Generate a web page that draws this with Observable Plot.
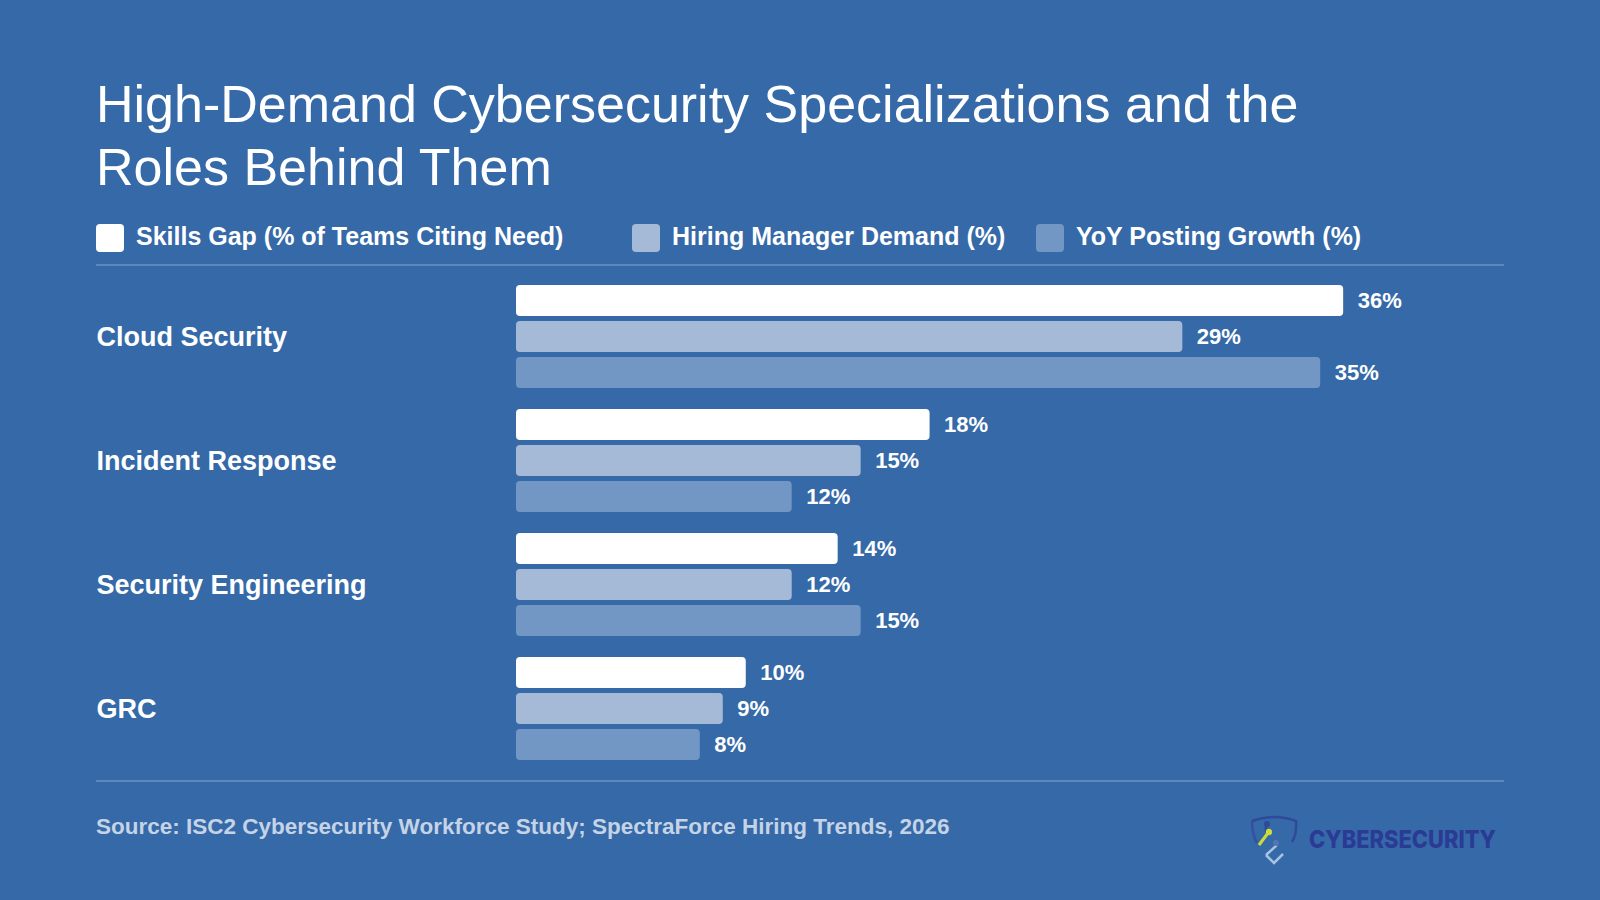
<!DOCTYPE html>
<html><head><meta charset="utf-8">
<script src="https://cdn.jsdelivr.net/npm/d3@7"></script>
<script src="https://cdn.jsdelivr.net/npm/@observablehq/plot@0.6"></script>
<style>
html,body{margin:0;padding:0;background:#3569a8;}
#page{position:relative;width:1600px;height:900px;background:#3569a8;overflow:hidden;font-family:"Liberation Sans",sans-serif;color:#fff;}
#page>*{position:absolute;}
#title{left:96px;top:73px;width:1300px;font-size:52px;line-height:63px;font-weight:400;margin:0;}
.rule{left:96px;width:1408px;height:1.5px;background:#5e88bd;}
.sw{top:224px;width:28px;height:28px;border-radius:4px;}
.lg{top:221px;font-size:25px;line-height:30px;font-weight:700;white-space:nowrap;}
#source{left:96px;top:813px;font-size:22.5px;line-height:28px;font-weight:700;color:#c5d3e6;white-space:nowrap;}
#chart{left:96px;top:284px;}
#logo{left:1245px;top:810px;}
</style></head><body>
<div id="page">
<h1 id="title">High-Demand Cybersecurity Specializations and the<br>Roles Behind Them</h1>
<div id="legend"></div>
<div class="rule" style="top:264px"></div>
<div id="chart"></div>
<div class="rule" style="top:780px"></div>
<div id="source">Source: ISC2 Cybersecurity Workforce Study; SpectraForce Hiring Trends, 2026</div>
<svg id="logo" width="260" height="60" viewBox="0 0 260 60">
  <defs><linearGradient id="sg" x1="0" y1="0" x2="0" y2="1"><stop offset="0" stop-color="#2d4596"/><stop offset=".55" stop-color="#4f7ab5"/><stop offset="1" stop-color="#b5cbe6"/></linearGradient></defs>
  <path d="M8 10 Q30 2 52 10 Q53 28 46 38 L30 53 L18 42" fill="none" stroke="url(#sg)" stroke-width="0"/>
  <path d="M7 11 Q29 3 51 11 Q52 24 47 32" fill="none" stroke="#2f4a9a" stroke-width="2.5"/>
  <path d="M7 11 Q7 24 12 33" fill="none" stroke="#34509e" stroke-width="2.5"/>
  <path d="M21 13 L21 22" stroke="#2f4a9a" stroke-width="2.5"/><circle cx="22" cy="14" r="3" fill="#2f4a9a"/>
  <path d="M14 35 L23 23" stroke="#cfdc35" stroke-width="3"/><circle cx="24" cy="22" r="3.2" fill="#cfdc35"/>
  <path d="M21 45 L29 53 L38 44 M21 45 L31 36 L31 32" fill="none" stroke="#a9c3e2" stroke-width="2.5"/>
  <circle cx="31" cy="33" r="3" fill="#5278b4"/>
  <text x="64" y="38" font-family="Inter" font-weight="800" font-size="24" fill="#2b3a94" textLength="187" lengthAdjust="spacingAndGlyphs">CYBERSECURITY</text>
</svg>
</div>
<script>
const categories = ["Cloud Security","Incident Response","Security Engineering","GRC"];
const series = ["Skills Gap (% of Teams Citing Need)","Hiring Manager Demand (%)","YoY Posting Growth (%)"];
const colors = ["#ffffff","#a5bad7","#7297c4"];
const skillsGap = [36,18,14,10];
const hiringDemand = [29,15,12,9];
const yoyGrowth = [35,12,15,8];
const legendSwatchX = [96,632,1036];

const page = document.getElementById("page");
series.forEach((s,i)=>{
  const sw=document.createElement("div");sw.className="sw";sw.style.left=legendSwatchX[i]+"px";sw.style.background=colors[i];page.appendChild(sw);
  const t=document.createElement("div");t.className="lg";t.style.left=(legendSwatchX[i]+40)+"px";t.textContent=s;page.appendChild(t);
});

const rows=[];
[skillsGap,hiringDemand,yoyGrowth].forEach((vals,si)=>vals.forEach((v,ci)=>rows.push({category:categories[ci],series:series[si],value:v})));

const chart = Plot.plot({
  width:1408,height:477,
  marginTop:0,marginBottom:0,marginLeft:420,marginRight:0,
  style:{background:"transparent",fontFamily:"'Liberation Sans',sans-serif",overflow:"visible"},
  x:{domain:[0,43],axis:null},
  y:{domain:series,axis:null,paddingInner:0.139,paddingOuter:0},
  fy:{domain:categories,paddingInner:0.173,paddingOuter:0,axis:null},
  color:{domain:series,range:colors},
  marks:[
    Plot.axisFy({anchor:"left",tickSize:0,tickPadding:420,textAnchor:"start",fontSize:27,fontWeight:700,fill:"#ffffff",label:null}),
    Plot.barX(rows,{x:"value",y:"series",fy:"category",fill:"series",rx:4}),
    Plot.text(rows,{x:"value",y:"series",fy:"category",text:d=>d.value+"%",dx:14,textAnchor:"start",fill:"#ffffff",fontSize:22,fontWeight:700})
  ]
});
document.getElementById("chart").appendChild(chart);
</script>
</body></html>
